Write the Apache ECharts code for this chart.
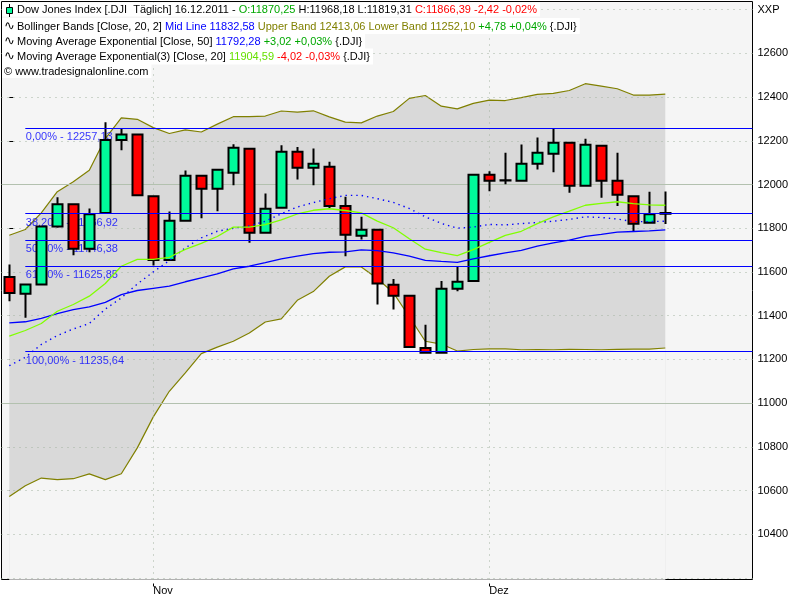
<!DOCTYPE html>
<html><head><meta charset="utf-8">
<script src="https://cdn.jsdelivr.net/npm/echarts@6/dist/echarts.min.js"></script>
<style>html,body{margin:0;padding:0;background:#fff;}#c{width:800px;height:600px;}</style>
</head><body><div id="c"></div>
<script>
// ---- data ----
const dates = ['19.10','20.10','21.10','24.10','25.10','26.10','27.10','28.10','31.10',
  '01.11','02.11','03.11','04.11','07.11','08.11','09.11','10.11','11.11','14.11','15.11','16.11','17.11','18.11',
  '21.11','22.11','23.11','25.11','28.11','29.11','30.11',
  '01.12','02.12','05.12','06.12','07.12','08.12','09.12','12.12','13.12','14.12','15.12','16.12'];
const opens  = [11577,11500,11542,11808,11910,11706,11870,12203,12229,11946,11655,11834,12040,11980,12054,12163,11779,11893,12150,12076,12081,11902,11765,11793,11541,11491,11252,11230,11523,11559,12044,12019,12017,12095,12141,12191,11994,12177,12017,11946,11825,11870];
const highs  = [11634,11545,11810,11942,11912,11890,12285,12255,12230,11947,11876,12064,12041,12072,12184,12165,11959,12179,12171,12165,12104,11944,11852,11795,11568,11493,11358,11559,11626,12046,12060,12145,12183,12215,12255,12192,12209,12178,12145,11947,11967,11968];
const lows   = [11466,11390,11540,11802,11676,11690,11868,12157,11949,11629,11653,11832,11846,11878,11997,11733,11777,11891,12023,11997,11892,11672,11748,11451,11428,11255,11230,11229,11512,11557,11969,12001,12015,12069,12056,11962,11992,11939,11901,11786,11823,11819];
const closes = [11504,11542,11808,11910,11706,11864,12203,12229,11951,11655,11834,12040,11980,12067,12168,11779,11889,12150,12076,12095,11902,11770,11793,11547,11491,11257,11230,11523,11555,12044,12017,12018,12095,12145,12191,11994,12182,12017,11953,11820,11864,11866];

const upperBand = [11768,11794,11870,11967,12012,12065,12210,12305,12298,12260,12233,12250,12240,12276,12310,12310,12313,12336,12331,12337,12309,12285,12282,12313,12334,12394,12407,12358,12346,12371,12386,12384,12397,12412,12417,12430,12461,12450,12438,12409,12409,12413];
const lowerBand = [10573,10622,10657,10650,10654,10676,10650,10677,10795,10937,11054,11138,11226,11256,11283,11321,11371,11385,11470,11510,11580,11623,11623,11570,11505,11395,11283,11270,11238,11245,11248,11248,11244,11245,11244,11246,11245,11244,11246,11247,11247,11252];
const midLine   = [11171,11209,11268,11309,11339,11364,11430,11481,11545,11600,11652,11710,11756,11786,11800,11810,11832,11866,11897,11917,11935,11950,11950,11935,11918,11890,11852,11822,11800,11805,11817,11815,11821,11826,11832,11840,11852,11849,11842,11830,11830,11832];
const ema50     = [11367,11372,11388,11409,11428,11440,11461,11496,11515,11525,11535,11555,11573,11591,11614,11626,11642,11660,11672,11684,11690,11692,11701,11697,11687,11672,11653,11648,11644,11660,11674,11687,11699,11718,11733,11745,11763,11772,11782,11785,11788,11792];
const ema20     = [11306,11332,11364,11420,11451,11489,11547,11626,11657,11657,11667,11703,11731,11762,11805,11805,11816,11838,11865,11882,11889,11881,11870,11832,11802,11752,11704,11688,11675,11702,11735,11767,11786,11821,11852,11878,11905,11914,11921,11912,11907,11905];

const fibPercents = [0, 38.2, 50, 61.8, 100];
const fibValues   = [12257.13, 11866.92, 11746.38, 11625.85, 11235.64];
const fibStartIdx = 1;

const monthIdx   = [9, 30];
const monthNames = ['Nov', 'Dez'];
const yTickValues  = [10400,10600,10800,11000,11200,11400,11600,11800,12000,12200,12400,12600];
const topLabelValue = 12800, topLabel = 'XXP';
const gridValues  = [10200,10400,10600,10800,11000,11200,11400,11600,11800,12000,12200,12400,12600,12800];
const solidGrid   = [11000, 12000];

// ---- layout / axis extents ----
const xMin = -0.4875, xMax = 46.45;
const yMin = 10193, yMax = 12837;
const FONT = 'Liberation Sans';

const fmt = v => v.toFixed(2).replace('.', ',');
const xy = arr => arr.map((v, i) => [i, v]);

const gridLineData = gridValues.map(v => ({
  yAxis: v,
  lineStyle: solidGrid.includes(v)
    ? { color: '#b3c1af', width: 1, type: 'solid' }
    : { color: '#a3b3a0', width: 1, type: [1, 5] }
})).concat(monthIdx.map(i => ({ xAxis: i, lineStyle: { color: '#a3b3a0', width: 1, type: [1, 5] } })));

const chart = echarts.init(document.getElementById('c'), null, { renderer: 'canvas' });

const rich = {
  k: { fill: '#000000', fontFamily: FONT, fontSize: 11 },
  g: { fill: '#00a800', fontFamily: FONT, fontSize: 11 },
  r: { fill: '#ff0000', fontFamily: FONT, fontSize: 11 },
  b: { fill: '#0000ff', fontFamily: FONT, fontSize: 11 },
  o: { fill: '#808000', fontFamily: FONT, fontSize: 11 },
  l: { fill: '#66e000', fontFamily: FONT, fontSize: 11 },
  w: { fill: '#000000', fontFamily: 'DejaVu Sans', fontSize: 13, width: 13 },
  sp: { fontFamily: FONT, fontSize: 11, width: 13 }
};
function row(top, text) {
  return { type: 'text', left: 2, top: top, z: 100,
    style: { text: text, rich: rich, fontFamily: FONT, fontSize: 11, fill: '#000',
      backgroundColor: '#fff', padding: [2, 3, 1, 2] } };
}

chart.setOption({
  animation: false,
  backgroundColor: '#fff',
  grid: { left: 1.5, top: 1.5, right: 47.5, bottom: 20.5, show: true,
    backgroundColor: '#f5f5f5', borderColor: '#000', borderWidth: 1 },
  xAxis: {
    type: 'value', min: xMin, max: xMax, offset: 4,
    axisLine: { show: false }, splitLine: { show: false },
    axisTick: { show: true, length: 3, customValues: monthIdx, lineStyle: { color: '#000' } },
    axisLabel: { show: true, customValues: monthIdx, margin: 2, align: 'left',
      color: '#000', fontFamily: FONT, fontSize: 11,
      formatter: v => monthNames[monthIdx.indexOf(v)] || '' }
  },
  yAxis: {
    type: 'value', position: 'right', min: yMin, max: yMax, offset: 3, scale: true,
    axisLine: { show: false }, splitLine: { show: false },
    axisTick: { show: true, length: 4, customValues: yTickValues, lineStyle: { color: '#000' } },
    axisLabel: { show: true, customValues: yTickValues.concat([topLabelValue]), margin: 2,
      color: '#000', fontFamily: FONT, fontSize: 11,
      formatter: v => v === topLabelValue ? topLabel : String(v) }
  },
  series: [
    { name: 'Upper Band', type: 'line', z: 1, data: xy(upperBand), showSymbol: false,
      lineStyle: { color: '#808000', width: 1.2 },
      areaStyle: { color: '#d9d9d9', opacity: 1, origin: 'start' },
      markLine: { z: 1.5, silent: true, symbol: 'none', label: { show: false },
        emphasis: { disabled: true }, data: gridLineData } },
    { name: 'Lower Band', type: 'line', z: 1.2, data: xy(lowerBand), showSymbol: false,
      lineStyle: { color: '#808000', width: 1.2 },
      areaStyle: { color: '#f5f5f5', opacity: 1, origin: 'start' } },
    { name: 'Fib labels', type: 'scatter', z: 1.8, symbol: 'circle', symbolSize: 1,
      itemStyle: { color: 'rgba(0,0,0,0)' },
      data: fibValues.map(v => [fibStartIdx, v]),
      label: { show: true, position: 'right', distance: 0, offset: [0, 9],
        color: '#0000ff', fontFamily: FONT, fontSize: 11,
        formatter: p => fmt(fibPercents[p.dataIndex]) + '% - ' + fmt(fibValues[p.dataIndex]) },
      markLine: { z: 4, silent: true, symbol: 'none', label: { show: false },
        emphasis: { disabled: true },
        lineStyle: { color: '#0000ff', width: 1.2, type: 'solid' },
        data: fibValues.map(v => [{ coord: [fibStartIdx, v] }, { coord: [xMax, v] }]) } },
    { name: '.DJI', type: 'candlestick', z: 2, barWidth: 10,
      data: dates.map((d, i) => [i, opens[i], closes[i], lows[i], highs[i]]),
      encode: { x: 0, y: [1, 2, 3, 4] },
      itemStyle: { color: '#00fa9a', color0: '#ff0000', borderColor: '#000', borderColor0: '#000',
        borderColorDoji: '#000', borderWidth: 2 } },
    { name: 'Mid Line', type: 'line', z: 3, data: xy(midLine), showSymbol: false,
      lineStyle: { color: '#0000ff', width: 1.4, type: [1.4, 4] } },
    { name: 'EMA 50', type: 'line', z: 3, data: xy(ema50), showSymbol: false,
      lineStyle: { color: '#0000ff', width: 1.3 } },
    { name: 'EMA 20', type: 'line', z: 3, data: xy(ema20), showSymbol: false,
      lineStyle: { color: '#80ff00', width: 1.3 } }
  ],
  graphic: [
    row(2.5, '{sp| }{k|Dow Jones Index [.DJI  Täglich] 16.12.2011 - }{g|O:11870,25}{k| H:11968,18 L:11819,31 }{r|C:11866,39 -2,42 -0,02%}'),
    row(18, '{w|∿}{k|Bollinger Bands [Close, 20, 2] }{b|Mid Line 11832,58 }{o|Upper Band 12413,06 Lower Band 11252,10 }{g|+4,78 +0,04% }{.DJI}'),
    row(33.5, '{w|∿}{k|Moving Average Exponential [Close, 50] }{b|11792,28 }{g|+3,02 +0,03% }{.DJI}'),
    row(48.5, '{w|∿}{k|Moving Average Exponential(3) [Close, 20] }{l|11904,59 }{r|-4,02 -0,03% }{.DJI}'),
    row(64, '{k|© www.tradesignalonline.com}'),
    { type: 'line', z: 101, shape: { x1: 9.5, y1: 4, x2: 9.5, y2: 17 }, style: { stroke: '#000', lineWidth: 1 } },
    { type: 'rect', z: 102, shape: { x: 6.5, y: 7.5, width: 6, height: 6 }, style: { fill: '#00fa9a', stroke: '#000', lineWidth: 1 } }
  ]
});
</script>
</body></html>
